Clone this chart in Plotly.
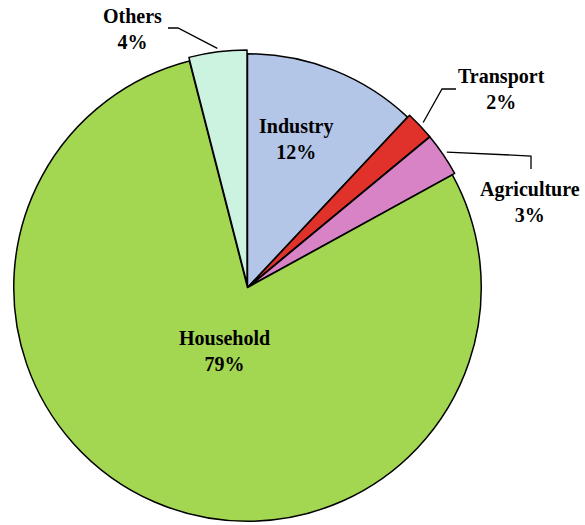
import math
import plotly.graph_objects as go

# ---- data ----
categories = ["Industry", "Transport", "Agriculture", "Household", "Others"]
values = [12, 2, 3, 79, 4]
colors = ["#B4C6E7", "#E1312B", "#D983C7", "#A3D651", "#CCF2E0"]
pulls = [0, 0.012, 0.012, 0, 0.016]

W, H = 585, 525
CX, CY = 247.5, 287.5   # pie centre in pixels
FONT = dict(family="Liberation Serif, Times New Roman, serif", size=20, color="black")


def px(x, y):
    return x / W, 1 - y / H


fig = go.Figure(go.Pie(
    labels=categories,
    values=values,
    sort=False,
    direction="clockwise",
    rotation=0,
    pull=pulls,
    marker=dict(colors=colors, line=dict(color="black", width=1.5)),
    textinfo="none",
    hoverinfo="skip",
    showlegend=False,
    domain=dict(x=[(CX - 240) / W, (CX + 240) / W], y=[0, 2 * (H - CY) / H]),
))

total = sum(values)
pct = {c: v / total for c, v in zip(categories, values)}


def mid_angle(name):
    cum = 0
    for c, v in zip(categories, values):
        if c == name:
            return (cum + v / 2) / total * 2 * math.pi
        cum += v
    return 0


def anchor(name, R=241):
    a = mid_angle(name)
    if a > math.pi:
        a -= 2 * math.pi
    return CX + R * math.sin(a), CY - R * math.cos(a)


# label positions (pixel centres) and leader line waypoints
label_pos = {
    "Industry": (296, 139),
    "Transport": (502, 89),
    "Agriculture": (530, 202),
    "Household": (224, 351),
    "Others": (132, 29),
}
leaders = {
    "Others": [(178, 28), (168, 28)],
    "Transport": [(442, 89), (456, 89)],
    "Agriculture": [(531, 156), (531, 169)],
}

annotations = []
for c in categories:
    x, y = px(*label_pos[c])
    annotations.append(dict(
        x=x, y=y, xref="paper", yref="paper", xanchor="center", yanchor="middle",
        text=f"<b>{c}<br>{round(pct[c] * 100)}%</b>", showarrow=False, font=FONT,
        align="center",
    ))

shapes = []
for c, pts in leaders.items():
    seq = [anchor(c)] + pts
    path = ""
    for i, (x, y) in enumerate(seq):
        xp, yp = px(x, y)
        path += ("M" if i == 0 else "L") + f"{xp},{yp} "
    shapes.append(dict(type="path", xref="paper", yref="paper", path=path.strip(),
                       line=dict(color="black", width=1.3)))

fig.update_layout(
    width=W, height=H,
    margin=dict(l=0, r=0, t=0, b=0),
    paper_bgcolor="white", plot_bgcolor="white",
    annotations=annotations, shapes=shapes,
)

fig.write_html(
    "out.html",
    config={"displayModeBar": False},
    post_script="document.body.style.margin='0px';document.body.style.overflow='hidden';",
)
